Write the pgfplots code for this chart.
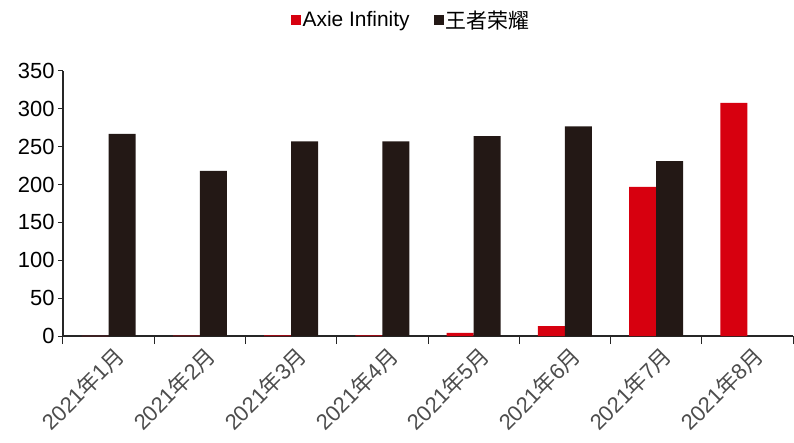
\documentclass[border=0pt]{standalone}
\usepackage{pgfplots}
\pgfplotsset{compat=1.18}
\usepackage{fontspec}
\setmainfont{Liberation Sans}
\newfontfamily\cjk{Noto Sans CJK SC}
\definecolor{axred}{HTML}{D7000F}
\definecolor{wzdark}{HTML}{231815}
\begin{document}
\begin{tikzpicture}
\begin{axis}[
  name=ax,
  scale only axis,
  width=730bp, height=265bp,
  ybar, bar width=27bp, ybar=0pt,
  xmin=-0.5, xmax=7.5, ymin=0, ymax=350,
  ytick={0,50,...,350},
  xtick={0,...,7},
  xticklabels={2021{\cjk 年}1{\cjk 月},2021{\cjk 年}2{\cjk 月},2021{\cjk 年}3{\cjk 月},2021{\cjk 年}4{\cjk 月},2021{\cjk 年}5{\cjk 月},2021{\cjk 年}6{\cjk 月},2021{\cjk 年}7{\cjk 月},2021{\cjk 年}8{\cjk 月}},
  minor xtick={-0.5,0.5,...,7.5},
  axis x line*=bottom, axis y line*=left,
  axis line style={black!85, line width=1.2bp, -},
  tick align=outside,
  major tick length=5bp, minor tick length=8bp,
  major x tick style={draw=none},
  minor x tick style={black!85, line width=1bp},
  y tick style={black!85, line width=1bp},
  /pgf/number format/assume math mode=true,
  y tick label style={font=\fontsize{22}{22}\selectfont},
  x tick label style={font=\fontsize{22}{22}\selectfont, text=black!70, rotate=45, anchor=north east, xshift=4bp, yshift=-2bp},
  legend style={at={(0.5,1)}, anchor=center, yshift=51bp, xshift=-17bp, draw=none,
    font=\fontsize{21}{21}\selectfont, legend columns=2,
    /tikz/every even column/.append style={column sep=22bp}},
]
\addplot[fill=axred, draw=none, legend image code/.code={\fill[axred] (0bp,-5bp) rectangle (10bp,5bp);}]
  coordinates {(0,0.3) (1,0.4) (2,0.8) (3,0.9) (4,4) (5,13) (6,197) (7,308)};
\addplot[fill=wzdark, draw=none, legend image code/.code={\fill[wzdark] (0bp,-5bp) rectangle (10bp,5bp);}]
  coordinates {(0,267) (1,218) (2,257) (3,257) (4,264) (5,277) (6,231)};
\legend{Axie Infinity,{\cjk 王者荣耀}}
\end{axis}
\path ([xshift=-63bp,yshift=-106bp]ax.south west) rectangle ([xshift=1bp,yshift=71bp]ax.north east);
\end{tikzpicture}
\end{document}
